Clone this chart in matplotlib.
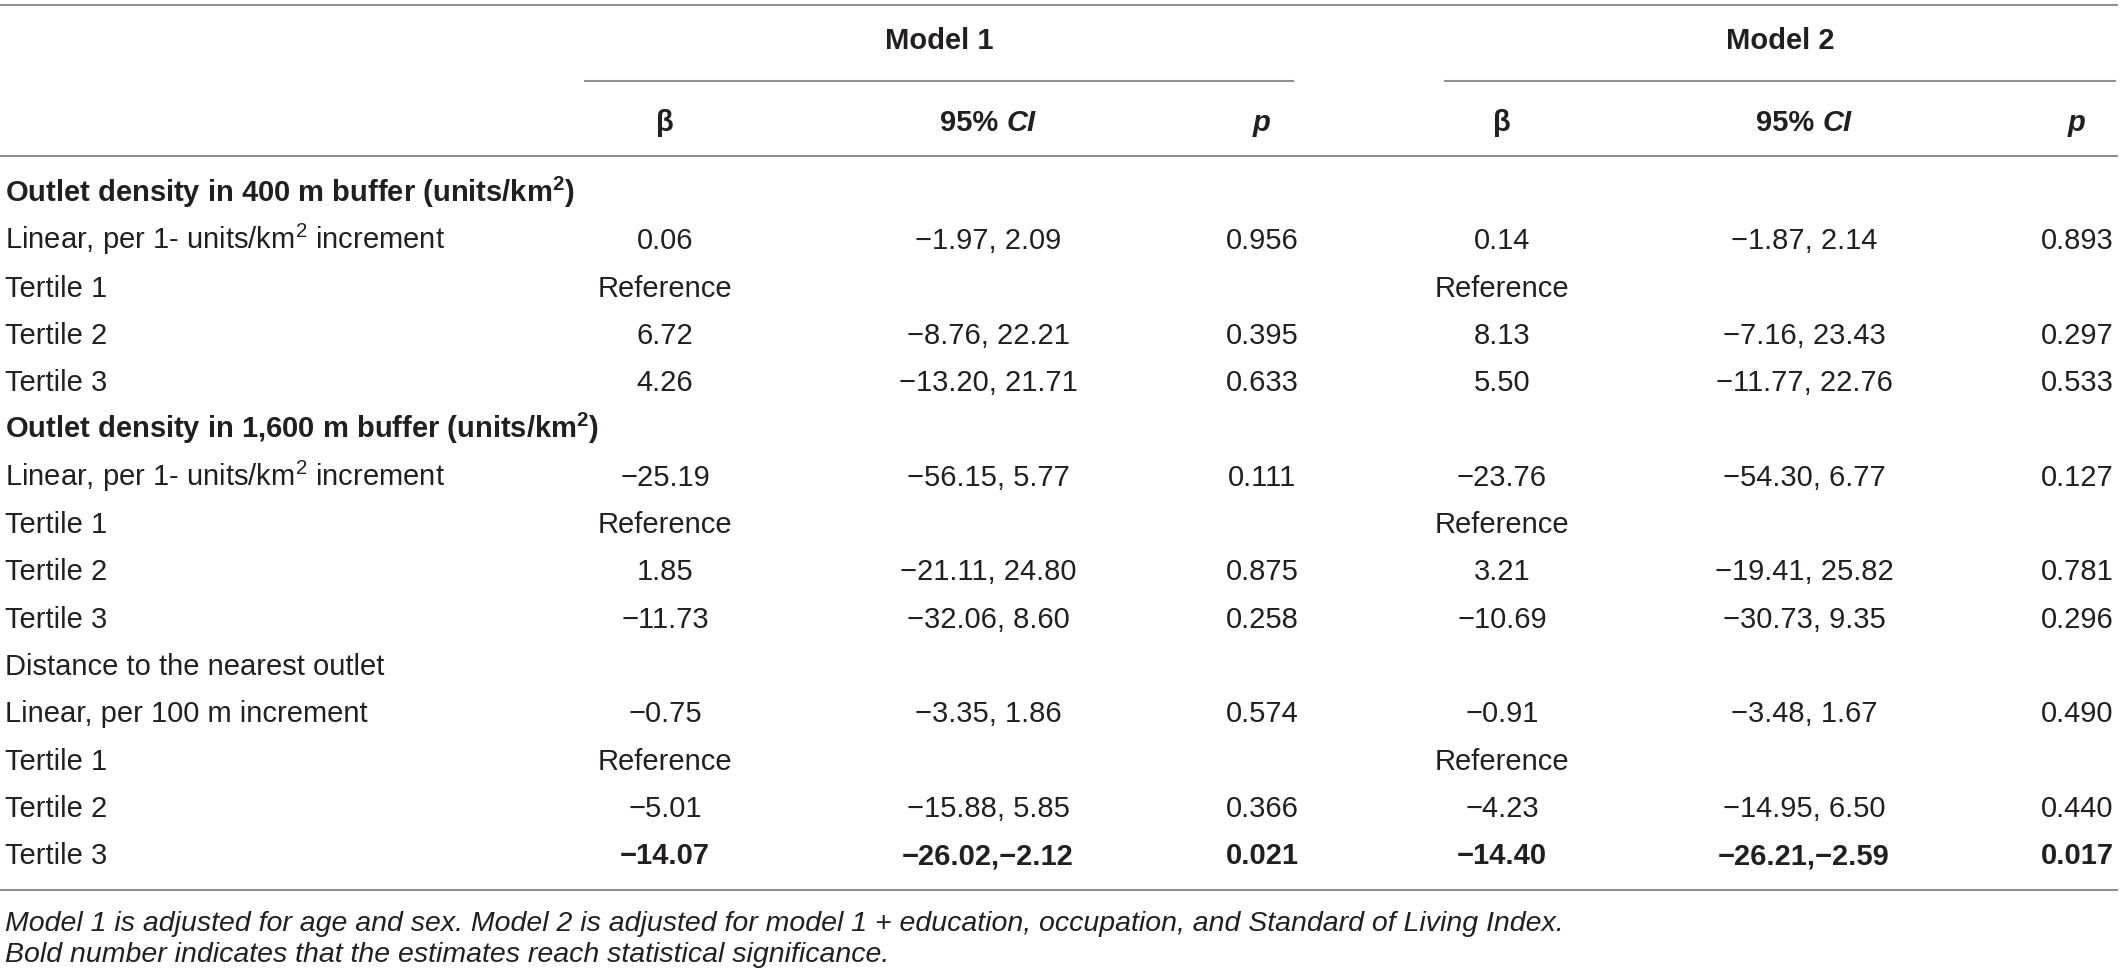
import matplotlib
matplotlib.use("Agg")
import matplotlib.pyplot as plt

plt.rcParams["mathtext.fontset"] = "custom"
plt.rcParams["mathtext.rm"] = "Liberation Sans"
plt.rcParams["mathtext.bf"] = "Liberation Sans:bold"
plt.rcParams["mathtext.it"] = "Liberation Sans:italic"

# table content
row_labels = [
    r"Outlet density in 400 m buffer (units/km$^\mathbf{2}$)",
    r"Linear, per 1- units/km$^2$ increment",
    "Tertile 1",
    "Tertile 2",
    "Tertile 3",
    r"Outlet density in 1,600 m buffer (units/km$^\mathbf{2}$)",
    r"Linear, per 1- units/km$^2$ increment",
    "Tertile 1",
    "Tertile 2",
    "Tertile 3",
    "Distance to the nearest outlet",
    "Linear, per 100 m increment",
    "Tertile 1",
    "Tertile 2",
    "Tertile 3",
]
group_rows = [0, 5]          # bold section headings
signif_rows = [14]           # bold values

m1_beta = ["", "0.06", "Reference", "6.72", "4.26", "", "−25.19", "Reference", "1.85", "−11.73",
           "", "−0.75", "Reference", "−5.01", "−14.07"]
m1_ci = ["", "−1.97, 2.09", "", "−8.76, 22.21", "−13.20, 21.71", "", "−56.15, 5.77", "",
         "−21.11, 24.80", "−32.06, 8.60", "", "−3.35, 1.86", "", "−15.88, 5.85", "−26.02,−2.12"]
m1_p = ["", "0.956", "", "0.395", "0.633", "", "0.111", "", "0.875", "0.258", "", "0.574", "",
        "0.366", "0.021"]
m2_beta = ["", "0.14", "Reference", "8.13", "5.50", "", "−23.76", "Reference", "3.21", "−10.69",
           "", "−0.91", "Reference", "−4.23", "−14.40"]
m2_ci = ["", "−1.87, 2.14", "", "−7.16, 23.43", "−11.77, 22.76", "", "−54.30, 6.77", "",
         "−19.41, 25.82", "−30.73, 9.35", "", "−3.48, 1.67", "", "−14.95, 6.50", "−26.21,−2.59"]
m2_p = ["", "0.893", "", "0.297", "0.533", "", "0.127", "", "0.781", "0.296", "", "0.490", "",
        "0.440", "0.017"]

model_names = ["Model 1", "Model 2"]
footnotes = [
    "Model 1 is adjusted for age and sex. Model 2 is adjusted for model 1 + education, occupation, and Standard of Living Index.",
    "Bold number indicates that the estimates reach statistical significance.",
]

# layout (pixel coordinates)
W, H = 2120, 978
FONT = "Liberation Sans"
FS = 21
TXT = "#231f20"
LINE = "#8f8f8f"
LW = 1.5

col_x = [665, 988, 1262, 1502, 1804, 2077]
model_x = [939, 1780]
model_span = [(585, 1293), (1445, 2115)]
row_y0, row_dy = 192, 47.3

fig = plt.figure(figsize=(W / 100, H / 100), dpi=100)
ax = fig.add_axes([0, 0, 1, 1])
ax.set_xlim(0, W)
ax.set_ylim(H, 0)
ax.axis("off")

# rules
ax.plot([0, 2117], [6, 6], color=LINE, lw=LW)
ax.plot([0, 2117], [157, 157], color=LINE, lw=LW)
ax.plot([0, 2117], [891, 891], color=LINE, lw=LW)
for x0, x1 in model_span:
    ax.plot([x0, x1], [82, 82], color=LINE, lw=LW)

# model headers
for name, x in zip(model_names, model_x):
    ax.text(x, 41, name, ha="center", va="center", fontsize=FS, fontweight="bold",
            family=FONT, color=TXT)

renderer = fig.canvas.get_renderer()

# column headers
hy = 123
for k in range(2):
    ax.text(col_x[3 * k], hy, "β", ha="center", va="center", fontsize=FS,
            fontweight="bold", family=FONT, color=TXT)
    ax.text(col_x[3 * k + 2], hy, "p", ha="center", va="center", fontsize=FS,
            fontweight="bold", style="italic", family=FONT, color=TXT)
    t1 = ax.text(0, hy, "95% ", ha="left", va="center", fontsize=FS, fontweight="bold",
                 family=FONT, color=TXT)
    t2 = ax.text(0, hy, "CI", ha="left", va="center", fontsize=FS, fontweight="bold",
                 style="italic", family=FONT, color=TXT)
    w1 = t1.get_window_extent(renderer).width
    w2 = t2.get_window_extent(renderer).width
    start = col_x[3 * k + 1] - (w1 + w2) / 2
    t1.set_x(start)
    t2.set_x(start + w1)

# body
columns = [m1_beta, m1_ci, m1_p, m2_beta, m2_ci, m2_p]
for i, label in enumerate(row_labels):
    y = row_y0 + i * row_dy + 10
    ax.text(5, y, label, ha="left", va="baseline", fontsize=FS, family=FONT, color=TXT,
            fontweight="bold" if i in group_rows else "normal")
    for x, col in zip(col_x, columns):
        if col[i]:
            ax.text(x, y, col[i], ha="center", va="baseline", fontsize=FS, family=FONT,
                    color=TXT, fontweight="bold" if i in signif_rows else "normal")

# footnotes
for j, note in enumerate(footnotes):
    ax.text(5, 931 + j * 31, note, ha="left", va="baseline", fontsize=20.5,
            style="italic", family=FONT, color=TXT)

fig.savefig("out.png", dpi=100, facecolor="white")
